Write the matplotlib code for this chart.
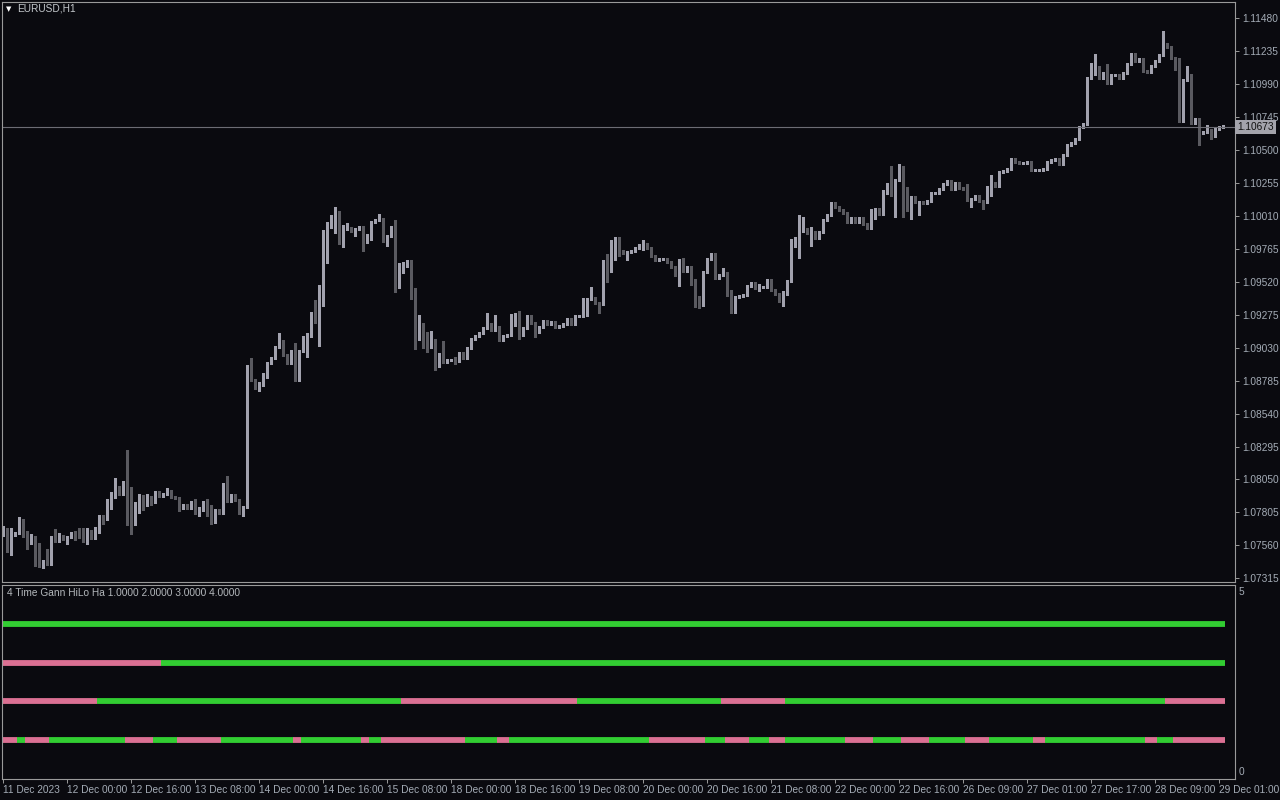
import numpy as np
import matplotlib
matplotlib.use("Agg")
import matplotlib.pyplot as plt

plt.rcParams["font.family"] = ["Liberation Sans", "DejaVu Sans"]

# EURUSD H1 closes, one per bar
closes = [
    1.07681, 1.07532, 1.07636, 1.07652, 1.07718, 1.07659, 1.07592, 1.07622, 1.07510, 1.07421,
    1.07443, 1.07421, 1.07622, 1.07592, 1.07629, 1.07607, 1.07622, 1.07636, 1.07629, 1.07622,
    1.07592, 1.07666, 1.07629, 1.07674, 1.07778, 1.07756, 1.07838, 1.07919, 1.07994, 1.07942,
    1.07971, 1.07741, 1.07718, 1.07830, 1.07875, 1.07860, 1.07919, 1.07882, 1.07956, 1.07927,
    1.07942, 1.07964, 1.07919, 1.07912, 1.07852, 1.07860, 1.07838, 1.07882, 1.07815, 1.07838,
    1.07882, 1.07852, 1.07756, 1.07823, 1.07800, 1.07994, 1.07890, 1.07934, 1.07897, 1.07815,
    1.07845, 1.08864, 1.08790, 1.08730, 1.08753, 1.08812, 1.08916, 1.08953, 1.09035, 1.09050,
    1.08976, 1.08916, 1.09005, 1.08790, 1.09005, 1.09028, 1.09117, 1.09288, 1.09221, 1.09429,
    1.09898, 1.09928, 1.09950, 1.10039, 1.09809, 1.09913, 1.09920, 1.09898, 1.09913, 1.09928,
    1.09816, 1.09838, 1.09965, 1.09980, 1.09987, 1.09824, 1.09861, 1.09928, 1.09541, 1.09593,
    1.09638, 1.09675, 1.09414, 1.09147, 1.09184, 1.09140, 1.09035, 1.09087, 1.08916, 1.08983,
    1.08924, 1.08939, 1.08939, 1.08931, 1.08991, 1.08953, 1.09028, 1.09095, 1.09117, 1.09140,
    1.09177, 1.09206, 1.09162, 1.09184, 1.09087, 1.09117, 1.09125, 1.09199, 1.09281, 1.09125,
    1.09177, 1.09266, 1.09214, 1.09147, 1.09184, 1.09229, 1.09206, 1.09221, 1.09184, 1.09192,
    1.09206, 1.09244, 1.09206, 1.09266, 1.09266, 1.09273, 1.09392, 1.09400, 1.09362, 1.09355,
    1.09675, 1.09601, 1.09779, 1.09846, 1.09750, 1.09735, 1.09742, 1.09750, 1.09772, 1.09794,
    1.09801, 1.09772, 1.09712, 1.09682, 1.09690, 1.09690, 1.09668, 1.09630, 1.09571, 1.09660,
    1.09601, 1.09630, 1.09504, 1.09355, 1.09347, 1.09593, 1.09690, 1.09727, 1.09549, 1.09571,
    1.09586, 1.09452, 1.09295, 1.09407, 1.09414, 1.09422, 1.09489, 1.09511, 1.09474, 1.09481,
    1.09481, 1.09534, 1.09459, 1.09429, 1.09377, 1.09429, 1.09526, 1.09787, 1.09787, 1.09898,
    1.09913, 1.09884, 1.09891, 1.09846, 1.09891, 1.09980, 1.10017, 1.10107, 1.10077, 1.10054,
    1.10032, 1.09965, 1.09995, 1.09965, 1.09995, 1.09950, 1.09920, 1.09995, 1.10062, 1.10025,
    1.10181, 1.10248, 1.10166, 1.10278, 1.10345, 1.10099, 1.10054, 1.10151, 1.10114, 1.10114,
    1.10107, 1.10122, 1.10181, 1.10181, 1.10211, 1.10248, 1.10270, 1.10211, 1.10255, 1.10218,
    1.10211, 1.10129, 1.10136, 1.10159, 1.10122, 1.10114, 1.10166, 1.10255, 1.10233, 1.10337,
    1.10345, 1.10360, 1.10434, 1.10412, 1.10404, 1.10404, 1.10412, 1.10352, 1.10352, 1.10352,
    1.10360, 1.10412, 1.10426, 1.10434, 1.10397, 1.10464, 1.10538, 1.10553, 1.10583, 1.10672,
    1.10694, 1.11036, 1.11066, 1.11118, 1.11036, 1.11073, 1.10999, 1.11059, 1.11059, 1.11036,
    1.11073, 1.11140, 1.11215, 1.11163, 1.11178, 1.11088, 1.11081, 1.11126, 1.11163, 1.11207,
    1.11289, 1.11267, 1.11185, 1.11103, 1.10716, 1.11021, 1.11059, 1.10702, 1.10731, 1.10627,
    1.10635, 1.10649, 1.10605, 1.10657, 1.10672, 1.10673,
]
first_open = 1.07652

# wick lengths above / below the body, in pips
upper_wick = [
    2, 1, 5, 1, 5, 4, 1, 2, 1, 7, 1, 9, 1, 6, 2, 1, 1, 2, 3, 6,
    7, 2, 1, 2, 1, 1, 7, 4, 7, 1, 7, 30, 25, 5, 7, 6, 2, 1, 1, 1,
    1, 2, 1, 1, 1, 1, 1, 1, 2, 1, 1, 2, 1, 1, 1, 3, 8, 1, 1, 1,
    1, 4, 9, 1, 2, 3, 1, 1, 1, 9, 4, 1, 1, 6, 1, 9, 2, 1, 10, 7,
    1, 4, 7, 4, 1, 3, 4, 1, 1, 1, 1, 4, 1, 1, 4, 1, 1, 1, 5, 7,
    3, 1, 1, 6, 9, 3, 1, 7, 1, 1, 10, 1, 1, 2, 1, 1, 1, 1, 1, 1,
    1, 8, 1, 9, 1, 1, 1, 8, 1, 2, 1, 1, 1, 1, 1, 1, 1, 1, 1, 1,
    1, 1, 1, 1, 1, 13, 1, 8, 1, 1, 1, 5, 5, 1, 1, 1, 1, 1, 1, 1,
    3, 1, 1, 1, 1, 1, 1, 1, 1, 3, 4, 1, 1, 4, 6, 1, 1, 1, 1, 1,
    4, 1, 1, 1, 1, 1, 1, 1, 1, 2, 1, 1, 1, 1, 1, 2, 1, 5, 7, 12,
    9, 1, 4, 1, 1, 1, 1, 1, 1, 1, 1, 1, 1, 1, 1, 1, 1, 7, 1, 1,
    2, 1, 13, 1, 5, 4, 13, 1, 1, 1, 1, 1, 1, 1, 1, 1, 1, 1, 1, 1,
    1, 4, 1, 1, 1, 1, 7, 6, 1, 1, 1, 1, 1, 1, 1, 1, 1, 1, 1, 1,
    1, 1, 1, 1, 1, 1, 1, 1, 1, 1, 1, 1, 8, 10, 1, 1, 7, 1, 1, 1,
    1, 1, 1, 1, 1, 1, 1, 1, 1, 1, 10, 1, 1, 1, 8, 1, 7, 1, 1, 1,
    1, 4, 1, 1, 1, 1,
]
lower_wick = [
    2, 2, 4, 1, 1, 4, 6, 2, 10, 2, 3, 1, 1, 1, 1, 1, 4, 1, 3, 1,
    1, 2, 2, 2, 2, 4, 1, 1, 1, 1, 1, 3, 7, 1, 3, 4, 1, 2, 1, 1,
    1, 1, 1, 1, 4, 2, 1, 1, 2, 4, 2, 7, 4, 3, 1, 1, 1, 1, 1, 2,
    4, 1, 1, 1, 2, 1, 1, 1, 1, 1, 1, 1, 1, 1, 1, 1, 7, 1, 1, 18,
    9, 24, 1, 7, 1, 3, 1, 1, 4, 1, 7, 1, 1, 1, 1, 1, 4, 1, 10, 7,
    1, 1, 2, 13, 6, 11, 4, 1, 5, 3, 1, 1, 1, 2, 1, 1, 1, 1, 1, 1,
    1, 1, 1, 1, 1, 1, 1, 1, 1, 3, 1, 1, 1, 4, 1, 1, 1, 1, 1, 1,
    1, 1, 1, 1, 1, 1, 1, 1, 1, 7, 1, 8, 1, 10, 4, 1, 5, 1, 1, 1,
    4, 1, 1, 1, 1, 1, 1, 1, 1, 8, 1, 1, 1, 2, 2, 1, 1, 1, 1, 1,
    1, 4, 1, 1, 1, 1, 1, 1, 1, 2, 1, 1, 1, 1, 1, 4, 1, 1, 1, 9,
    1, 1, 10, 1, 1, 1, 1, 1, 1, 1, 1, 1, 1, 1, 1, 1, 1, 1, 1, 1,
    1, 1, 1, 16, 1, 10, 1, 7, 1, 10, 1, 1, 1, 1, 1, 1, 1, 1, 1, 1,
    1, 1, 5, 1, 1, 5, 1, 1, 1, 1, 1, 1, 1, 1, 1, 1, 1, 1, 1, 1,
    1, 1, 1, 1, 1, 1, 1, 1, 1, 1, 1, 1, 1, 1, 1, 1, 1, 1, 1, 1,
    1, 1, 1, 1, 1, 1, 1, 1, 1, 1, 1, 1, 1, 1, 1, 1, 1, 1, 1, 9,
    1, 1, 2, 1, 1, 1,
]

price_ticks = [1.07315, 1.07560, 1.07805, 1.08050, 1.08295, 1.08540, 1.08785, 1.09030,
               1.09275, 1.09520, 1.09765, 1.10010, 1.10255, 1.10500, 1.10745, 1.10990,
               1.11235, 1.11480]
last_price = 1.10673

time_tick_bars = [0, 16, 32, 48, 64, 80, 96, 112, 128, 144, 160, 176, 192, 208, 224,
                  240, 256, 272, 288, 304]
time_tick_labels = ["11 Dec 2023", "12 Dec 00:00", "12 Dec 16:00", "13 Dec 08:00",
                    "14 Dec 00:00", "14 Dec 16:00", "15 Dec 08:00", "18 Dec 00:00",
                    "18 Dec 16:00", "19 Dec 08:00", "20 Dec 00:00", "20 Dec 16:00",
                    "21 Dec 08:00", "22 Dec 00:00", "22 Dec 16:00", "26 Dec 09:00",
                    "27 Dec 01:00", "27 Dec 17:00", "28 Dec 09:00", "29 Dec 01:00"]

# Gann HiLo state per time frame: bar where each run starts, and its state
gann_levels = [4, 3, 2, 1]
gann_starts = [
    [0],
    [0, 40],
    [0, 24, 100, 144, 180, 196, 291],
    [0, 4, 6, 12, 31, 38, 44, 55, 73, 75, 90, 92, 95, 116, 124, 127, 162, 176,
     181, 187, 192, 196, 211, 218, 225, 232, 241, 247, 258, 261, 286, 289, 293],
]
gann_first_up = [True, False, False, False]

BG = "#0a0a0f"
AXIS = "#9a9a9a"
TXT = "#a4acb6"
BULL = "#a2a2ae"
BEAR = "#5a5a60"
GREEN = "#32cd32"
PINK = "#db7093"
FS = 7.3

n = len(closes)
x = np.arange(n)
c = np.array(closes)
o = np.r_[first_open, c[:-1]]
hi = np.maximum(o, c) + np.array(upper_wick) * 0.0001
lo = np.minimum(o, c) - np.array(lower_wick) * 0.0001
bull = c >= o
cols = np.where(bull, BULL, BEAR)

fig = plt.figure(figsize=(12.8, 8), dpi=100, facecolor=BG)
ax = fig.add_axes([2 / 1280, 218 / 800, 1233 / 1280, 580 / 800])
ind = fig.add_axes([2 / 1280, 21 / 800, 1233 / 1280, 194 / 800])

xlim = (-0.33, 307.9)
for a in (ax, ind):
    a.set_facecolor(BG)
    a.set_xlim(*xlim)
    for s in a.spines.values():
        s.set_color(AXIS)
        s.set_linewidth(0.8)

# candles
ax.vlines(x, lo, hi, colors=cols, linewidth=0.9, antialiased=False)
body = np.maximum(np.abs(c - o), 0.00007)
ax.bar(x, body, bottom=np.minimum(o, c), width=0.74, color=cols,
       linewidth=0, antialiased=False)
ax.axhline(last_price, color="#6c6c74", linewidth=0.8)

ax.set_ylim(1.072875, 1.116015)
ax.set_xticks([])
ax.yaxis.tick_right()
ax.set_yticks(price_ticks)
ax.set_yticklabels([f"{v:.5f}" for v in price_ticks])
ax.tick_params(axis="y", length=3, width=0.7, color=AXIS, labelcolor=TXT,
               labelsize=FS, pad=2)
ax.text(1.0015, last_price, f"{last_price:.5f}", transform=ax.get_yaxis_transform(),
        fontsize=FS, color="#101010", va="center", ha="left",
        bbox=dict(boxstyle="square,pad=0.2", facecolor="#a3a3ab", edgecolor="none"))

ax.text(0.0035, 0.988, "\u25bc", transform=ax.transAxes, fontsize=5, color="white",
        va="center", ha="left", family="DejaVu Sans")
ax.text(0.0125, 0.988, "EURUSD,H1", transform=ax.transAxes, fontsize=FS, color="#c4c8cc",
        va="center", ha="left")

# indicator panel
for lvl, starts, up0 in zip(gann_levels, gann_starts, gann_first_up):
    ends = starts[1:] + [n]
    state = up0
    for s, e in zip(starts, ends):
        ind.hlines(lvl, s - 0.5, e - 0.5, colors=GREEN if state else PINK,
                   linewidth=4.2, capstyle="butt")
        state = not state

ind.set_ylim(0, 5)
ind.set_yticks([])
ind.set_xticks(time_tick_bars)
ind.set_xticklabels(time_tick_labels)
for lab in ind.get_xticklabels():
    lab.set_horizontalalignment("left")
ind.tick_params(axis="x", length=3, width=0.7, color=AXIS, labelcolor=TXT,
                labelsize=FS, pad=1.5)
ind.text(0.004, 0.96, "4 Time Gann HiLo Ha 1.0000 2.0000 3.0000 4.0000",
         transform=ind.transAxes, fontsize=FS, color="#b4b8bc", va="center", ha="left")
ind.text(1.003, 0.965, "5", transform=ind.transAxes, fontsize=FS, color=TXT,
         va="center", ha="left")
ind.text(1.003, 0.035, "0", transform=ind.transAxes, fontsize=FS, color=TXT,
         va="center", ha="left")

fig.savefig("out.png", dpi=100, facecolor=BG)
